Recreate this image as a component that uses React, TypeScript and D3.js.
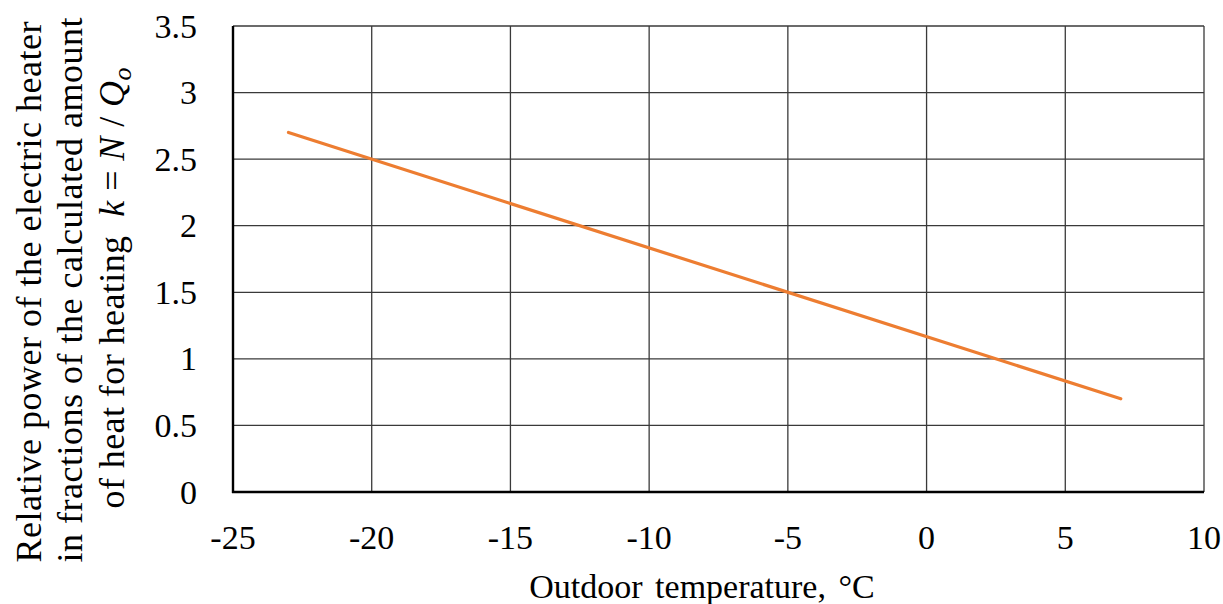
import React from "react";
import * as d3 from "d3";

// line endpoints
const temps = [-23, 7];
const kValues = [2.7, 0.7];
const xTicks = [-25, -20, -15, -10, -5, 0, 5, 10];
const yTicks = [0, 0.5, 1, 1.5, 2, 2.5, 3, 3.5];

const W = 1223;
const H = 604;
const margin = { left: 233, right: 19, top: 26, bottom: 112 };

export default function App() {
  const x = d3.scaleLinear().domain([-25, 10]).range([margin.left, W - margin.right]);
  const y = d3.scaleLinear().domain([0, 3.5]).range([H - margin.bottom, margin.top]);
  const line = d3
    .line<number>()
    .x((d) => x(d))
    .y((_, i) => y(kValues[i]));

  const font = '"Times New Roman", "Liberation Serif", "DejaVu Serif", serif';

  return (
    <svg
      width={W}
      height={H}
      style={{ position: "absolute", left: 0, top: 0, background: "#fff", fontFamily: font }}
    >
      {/* grid */}
      {yTicks.slice(1).map((t) => (
        <line key={"h" + t} x1={x(-25)} x2={x(10)} y1={y(t)} y2={y(t)} stroke="#3a3a3a" strokeWidth={1.3} />
      ))}
      {xTicks.slice(1).map((t) => (
        <line key={"v" + t} x1={x(t)} x2={x(t)} y1={y(0)} y2={y(3.5)} stroke="#3a3a3a" strokeWidth={1.3} />
      ))}
      {/* axes */}
      <line x1={x(-25)} x2={x(-25)} y1={y(0) + 1} y2={y(3.5)} stroke="#000" strokeWidth={2.4} />
      <line x1={x(-25) - 1} x2={x(10)} y1={y(0)} y2={y(0)} stroke="#000" strokeWidth={2.4} />

      <path d={line(temps) || ""} fill="none" stroke="#ED7D31" strokeWidth={3.2} strokeLinecap="round" />

      {yTicks.map((t) => (
        <text key={"yl" + t} x={197} y={y(t) + 11.5} textAnchor="end" fontSize={34} fill="#000">
          {t}
        </text>
      ))}
      {xTicks.map((t) => (
        <text key={"xl" + t} x={x(t)} y={y(0) + 57} textAnchor="middle" fontSize={34} fill="#000">
          {t}
        </text>
      ))}

      <text x={702} y={598} textAnchor="middle" fontSize={34} fill="#000" wordSpacing={4}>
        Outdoor temperature, °C
      </text>

      <g fontSize={36} fill="#000">
        <text transform="translate(41,292) rotate(-90)" textAnchor="middle" textLength={541} lengthAdjust="spacing">
          Relative power of the electric heater
        </text>
        <text transform="translate(82,290) rotate(-90)" textAnchor="middle" textLength={545} lengthAdjust="spacing">
          in fractions of the calculated amount
        </text>
        <text transform="translate(124,288) rotate(-90)" textAnchor="middle" textLength={441} lengthAdjust="spacing">
          of heat for heating{"\u00a0\u00a0"}
          <tspan fontStyle="italic">k</tspan> = <tspan fontStyle="italic">N</tspan> /{" "}
          <tspan fontStyle="italic">Q</tspan>
          <tspan fontStyle="italic" fontSize={26} dy={7}>o</tspan>
        </text>
      </g>
    </svg>
  );
}
